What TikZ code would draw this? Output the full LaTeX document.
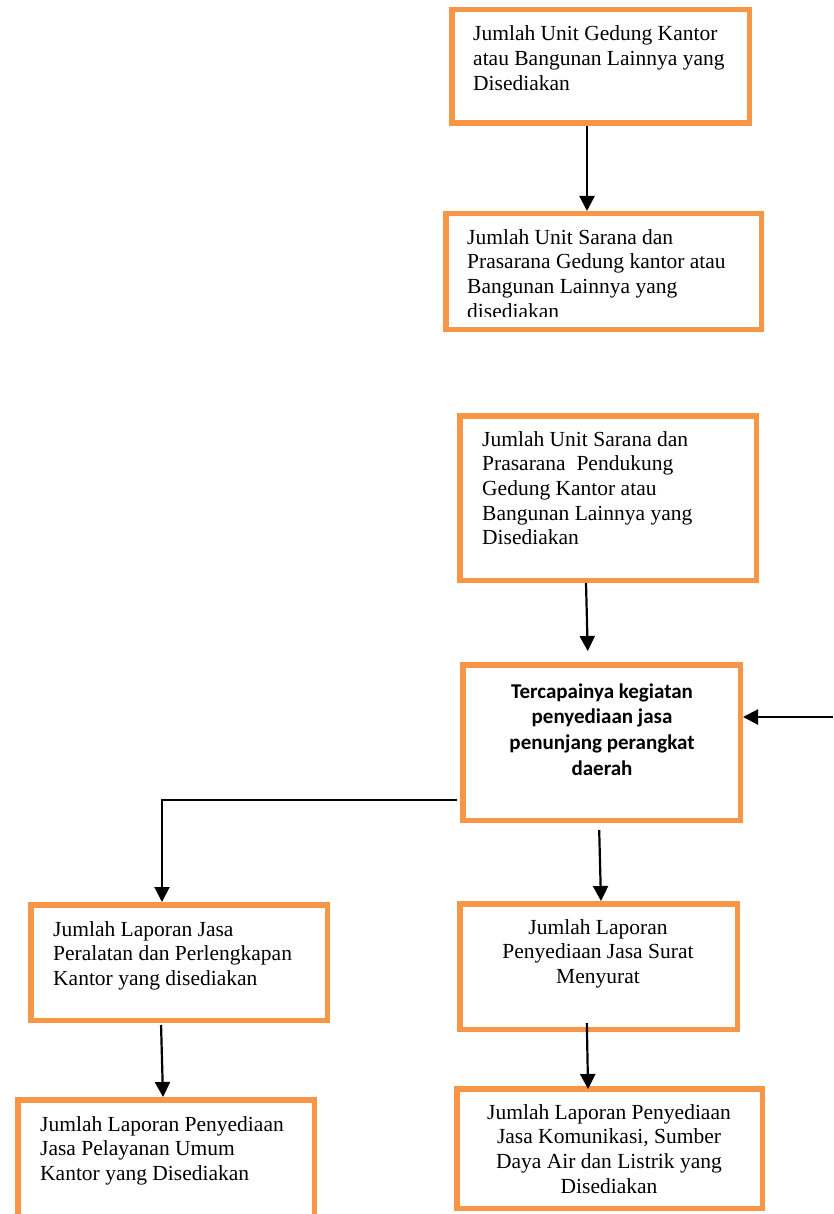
\documentclass[tikz,border=0pt]{standalone}
\usepackage{fontspec}
\setmainfont{Liberation Serif}
\newfontfamily\calibri{Carlito}
\usetikzlibrary{arrows.meta,fit}
\definecolor{boxorange}{HTML}{F79646}

\begin{document}
\begin{tikzpicture}[x=1pt,y=-1pt,
  box/.style={draw=boxorange,line width=5.5pt,inner sep=0pt,outer sep=2.75pt},
  lbl/.style={inner sep=0pt,anchor=base west,align=left,font=\fontsize{21.5}{24.7}\selectfont},
  clbl/.style={inner sep=0pt,anchor=base,align=center,font=\fontsize{21.5}{24.7}\selectfont},
  blbl/.style={inner sep=0pt,anchor=base,align=center,font=\calibri\bfseries\fontsize{21}{25.7}\selectfont},
  arr/.style={line width=2.2pt,-{Triangle[length=15pt,width=15pt]}}]

\useasboundingbox (0,0) rectangle (833,1214);
\clip (0,0) rectangle (833,1214);

% boxes
\node[box,fit={(451.75,9.75) (749.25,123.25)}] (n1) {};
\node[box,fit={(445.75,213.75) (761.25,329.25)}] (n2) {};
\node[box,fit={(459.75,415.75) (756.25,580.25)}] (n3) {};
\node[box,fit={(462.75,664.75) (740.25,820.25)}] (n4) {};
\node[box,fit={(30.75,904.75) (327.25,1020.25)}] (n5) {};
\node[box,fit={(17.75,1099.75) (314.25,1240)}] (n6) {};
\node[box,fit={(459.75,903.75) (737.25,1029.25)}] (n7) {};
\node[box,fit={(456.75,1088.75) (762.25,1208.25)}] (n8) {};

% texts (anchored at the baseline of the last line)
\node[lbl] (t1) at (473,90.4) {Jumlah Unit Gedung Kantor\\atau Bangunan Lainnya yang\\Disediakan};
\begin{scope}
  \clip (445,211) rectangle (765,316);
  \node[lbl] (t2) at (467,318.1) {Jumlah Unit Sarana dan\\Prasarana Gedung kantor atau\\Bangunan Lainnya yang\\disediakan};
\end{scope}
\node[lbl] (t3) at (482,544.8) {Jumlah Unit Sarana dan\\Prasarana~~Pendukung\\Gedung Kantor atau\\Bangunan Lainnya yang\\Disediakan};
\node[blbl] (t4) at (602,775.1) {Tercapainya kegiatan\\penyediaan jasa\\penunjang perangkat\\daerah};
\node[lbl] (t5) at (53,985.4) {Jumlah Laporan Jasa\\Peralatan dan Perlengkapan\\Kantor yang disediakan};
\node[lbl] (t6) at (40,1180.4) {Jumlah Laporan Penyediaan\\Jasa Pelayanan Umum\\Kantor yang Disediakan};
\node[clbl] (t7) at (598,983.4) {Jumlah Laporan\\Penyediaan Jasa Surat\\Menyurat};
\node[clbl] (t8) at (609,1193.1) {Jumlah Laporan Penyediaan\\Jasa Komunikasi, Sumber\\Daya Air dan Listrik yang\\Disediakan};

% connectors
\coordinate (src) at (833,717);
\draw[arr] ([xshift=-13.5pt]n1.south) -- ([xshift=-16.5pt]n2.north);
\draw[arr,shorten >=11pt] ([xshift=-22pt]n3.south) -- ([xshift=-13.5pt]n4.north);
\draw[arr] (src) -- (src -| n4.east);
\draw[arr,line width=2pt] ([xshift=-3pt,yshift=-57.5pt]n4.west) -| ([xshift=-17pt]n5.north);
\draw[arr,shorten <=7pt] ([xshift=-2.5pt]n4.south) -- ([xshift=2.5pt]n7.north);
\draw[arr,shorten <=2pt] ([xshift=-18pt]n5.south) -- ([xshift=-3pt]n6.north);
\draw[arr,shorten <=-9pt,shorten >=-3pt] ([xshift=-11.5pt]n7.south) -- ([xshift=-21.5pt]n8.north);
\end{tikzpicture}
\end{document}
